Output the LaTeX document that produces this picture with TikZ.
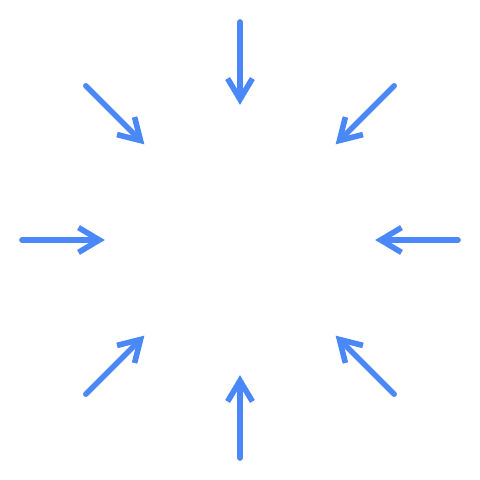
\documentclass[tikz,border=0pt]{standalone}
\usepackage{tikz}
\usetikzlibrary{arrows.meta}
\definecolor{arrowblue}{HTML}{4A88F7}

\begin{document}
\begin{tikzpicture}[scale=1]
    \useasboundingbox (-6,-6) rectangle (6,6);
    \coordinate (O) at (0,0);
    \foreach \a in {0,45,...,315}{
      \coordinate (out\a) at (\a:5.45);
      \coordinate (in\a) at (\a:3.38);
      \draw[-{Straight Barb[length=5.2mm,width=6.2mm]},line width=4pt,line cap=round,line join=round,arrowblue] (out\a)--(in\a);
    }
  \end{tikzpicture}
\end{document}
